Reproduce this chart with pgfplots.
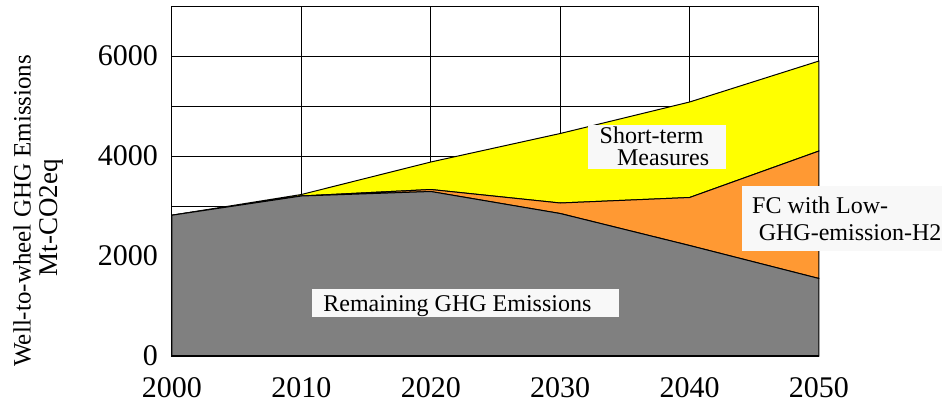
\documentclass[border=0pt]{standalone}
\usepackage{fontspec}
\setmainfont{Liberation Serif}
\newfontfamily\annf{Liberation Serif}
\usepackage{pgfplots}
\pgfplotsset{compat=1.18}
\definecolor{ggray}{HTML}{808080}
\definecolor{gorange}{HTML}{FF9933}
\definecolor{gyellow}{HTML}{FFFF00}
\definecolor{boxfill}{HTML}{F8F8F8}
\newcommand\annfont{\annf\fontsize{12}{14}\selectfont}
\begin{document}
\begin{tikzpicture}
\begin{axis}[
  name=ax,
  scale only axis, width=323.5pt, height=175pt,
  xmin=2000, xmax=2050, ymin=0, ymax=7000,
  xtick={2000,2010,2020,2030,2040,2050},
  ytick={0,1000,2000,3000,4000,5000,6000,7000},
  yticklabels={0,,2000,,4000,,6000,},
  /pgf/number format/assume math mode=true,
  /pgf/number format/1000 sep={},
  xticklabel style={font=\annf\fontsize{15}{18}\selectfont, yshift=-7pt},
  yticklabel style={font=\annf\fontsize{15}{18}\selectfont, xshift=-3.5pt},
  grid=major, major grid style={black, line width=0.5pt},
  major tick length=0pt,
  axis line style={black, line width=0.5pt},
  clip=false,
  stack plots=y,
]
\addplot[fill=ggray, draw=black, line width=0.5pt] coordinates {
  (2000,2816) (2010,3200) (2020,3290) (2030,2850) (2040,2210) (2050,1550)
} \closedcycle;
\addplot[fill=gorange, draw=black, line width=0.5pt] coordinates {
  (2000,0) (2010,0) (2020,40) (2030,210) (2040,960) (2050,2550)
} \closedcycle;
\addplot[fill=gyellow, draw=black, line width=0.5pt] coordinates {
  (2000,0) (2010,30) (2020,550) (2030,1390) (2040,1910) (2050,1800)
} \closedcycle;

\coordinate (b0) at (axis cs:2000,0);
\coordinate (b1) at (axis cs:2050,0);
\coordinate (r1) at (axis cs:2010.82,775);
\coordinate (r2) at (axis cs:2034.54,1335);
\coordinate (rt) at (axis cs:2011.67,900);
\coordinate (s1) at (axis cs:2032.15,3737);
\coordinate (s2) at (axis cs:2042.84,4616);
\coordinate (st1) at (axis cs:2033.02,4250);
\coordinate (st2) at (axis cs:2034.37,3817);
\coordinate (f1) at (axis cs:2044.07,2102);
\coordinate (f2) at (axis cs:2059.51,3397);
\coordinate (ft1) at (axis cs:2044.81,2850);
\coordinate (ft2) at (axis cs:2045.32,2316);
\coordinate (y1) at (axis cs:1988.41,2906);
\coordinate (y2) at (axis cs:1990.65,2766);
\end{axis}

\draw[black, line width=1.1pt] (b0) -- (b1);

\fill[boxfill] (r1) rectangle (r2);
\node[anchor=base west, inner sep=0, font=\annfont] at (rt) {Remaining GHG Emissions};

\fill[boxfill] (s1) rectangle (s2);
\node[anchor=base west, inner sep=0, font=\annfont] at (st1) {Short-term};
\node[anchor=base west, inner sep=0, font=\annfont] at (st2) {Measures};

\fill[boxfill] (f1) rectangle (f2);
\node[anchor=base west, inner sep=0, font=\annfont] at (ft1) {FC with Low-};
\node[anchor=base west, inner sep=0, font=\annfont] at (ft2) {GHG-emission-H2};

\node[rotate=90, anchor=center, inner sep=0, font=\annf\fontsize{12.5}{15}\selectfont] at (y1) {Well-to-wheel GHG Emissions};
\node[rotate=90, anchor=center, inner sep=0, font=\annf\fontsize{13.5}{16}\selectfont] at (y2) {Mt-CO2eq};

\pgfresetboundingbox
\useasboundingbox ([shift={(-86pt,-23.5pt)}]ax.south west) rectangle ([shift={(385pt,178pt)}]ax.south west);
\end{tikzpicture}
\end{document}
